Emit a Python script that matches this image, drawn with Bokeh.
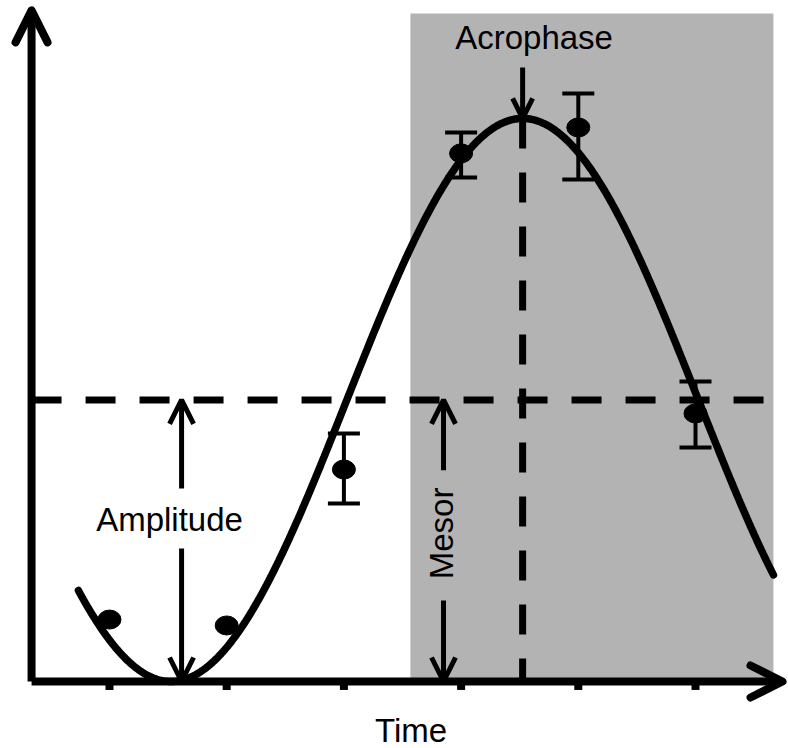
import numpy as np
from bokeh.plotting import figure
from bokeh.models import Range1d, Arrow, OpenHead, Whisker, TeeHead, ColumnDataSource
from bokeh.core.properties import value
from bokeh.embed import file_html
from bokeh.resources import INLINE

# Sampling times (h) and observed means with error limits
times = [2, 6, 10, 14, 18, 22]
means = [2.20, 1.99, 7.53, 18.76, 19.68, 9.52]
err_times = [10, 14, 18, 22]
err_upper = [8.81, 19.50, 20.89, 10.66]
err_lower = [6.32, 17.90, 17.83, 8.31]
tick_times = [2, 6, 10, 14, 18, 22]

# Fitted cosinor parameters
MESOR = 10.0
AMPLITUDE = 10.0
ACROPHASE = 16.1
PERIOD = 24.0

# Extents of the drawing (h / response units)
T_AXIS = -0.66
T_END = 24.97
Y_TOP = 23.84
DARK_START, DARK_END = 12.27, 24.66
CURVE_START, CURVE_END = 0.94, 24.66
T_AMPLITUDE = 4.46
T_MESOR = 13.40

FONT = value("Liberation Sans")
FS = "33px"

p = figure(width=788, height=748, x_range=Range1d(-1.72, 25.174),
           y_range=Range1d(-2.38, 24.19), toolbar_location=None,
           output_backend="svg", min_border=0,
           x_axis_location=None, y_axis_location=None)
p.grid.visible = False
p.outline_line_color = None
p.background_fill_color = "white"
p.border_fill_color = "white"

# shaded phase
p.quad(left=[DARK_START], right=[DARK_END], bottom=[0], top=[23.73],
       fill_color="#b3b3b3", line_color=None)

# axes with open arrow heads
p.segment(x0=[T_AXIS], y0=[0], x1=[T_END - 0.1], y1=[0], line_width=8, line_color="black")
p.segment(x0=[T_AXIS], y0=[0], x1=[T_AXIS], y1=[Y_TOP - 0.05], line_width=8, line_color="black")
for xs, ys, xe, ye in [(T_AXIS, 0, T_END, 0), (T_AXIS, 0, T_AXIS, Y_TOP)]:
    p.add_layout(Arrow(end=OpenHead(size=32, line_width=8, line_color="black",
                                    line_cap="round", line_join="round"),
                       x_start=xs, y_start=ys, x_end=xe, y_end=ye,
                       line_width=0, line_alpha=0))

# tick marks below the time axis
p.segment(x0=tick_times, y0=[0] * len(tick_times), x1=tick_times,
          y1=[-0.3] * len(tick_times), line_width=8, line_color="black")

# mesor and acrophase reference lines
p.line([T_AXIS, 24.4], [MESOR, MESOR], line_width=7, line_color="black",
       line_dash="30 24")
p.line([ACROPHASE, ACROPHASE], [MESOR + AMPLITUDE, 0], line_width=7,
       line_color="black", line_dash="30 24")

# fitted cosine
t = np.linspace(CURVE_START, CURVE_END, 400)
y = MESOR + AMPLITUDE * np.cos(2 * np.pi * (t - ACROPHASE) / PERIOD)
p.line(t, y, line_width=7.5, line_color="black", line_cap="round")

# error bars and observed means
src = ColumnDataSource(dict(t=err_times, upper=err_upper, lower=err_lower))
p.add_layout(Whisker(base="t", upper="upper", lower="lower", source=src,
                     level="annotation", line_width=4, line_color="black",
                     upper_head=TeeHead(size=32, line_width=4, line_color="black"),
                     lower_head=TeeHead(size=32, line_width=4, line_color="black")))
p.ellipse(x=times, y=means, width=23, height=19, width_units="screen",
          height_units="screen", fill_color="black", line_color="black")

def arrow(x0, y0, x1, y1, size=24):
    p.add_layout(Arrow(end=OpenHead(size=size, line_width=5, line_color="black"),
                       x_start=x0, y_start=y0, x_end=x1, y_end=y1,
                       line_width=5, line_color="black"))

# amplitude arrows
arrow(T_AMPLITUDE, 6.86, T_AMPLITUDE, MESOR)
arrow(T_AMPLITUDE, 4.72, T_AMPLITUDE, 0)
# mesor arrows
arrow(T_MESOR, 7.50, T_MESOR, MESOR)
arrow(T_MESOR, 2.88, T_MESOR, 0)
# acrophase arrow
arrow(ACROPHASE, 21.81, ACROPHASE, MESOR + AMPLITUDE, size=20)

# labels
p.text(x=[4.05], y=[5.75], text=["Amplitude"], text_font=FONT, text_font_size=FS,
       text_align="center", text_baseline="alphabetic", text_color="black")
p.text(x=[16.49], y=[22.88], text=["Acrophase"], text_font=FONT, text_font_size=FS,
       text_align="center", text_baseline="alphabetic", text_color="black")
p.text(x=[12.29], y=[-1.74], text=["Time"], text_font=FONT, text_font_size=FS,
       text_align="center", text_baseline="alphabetic", text_color="black")
p.text(x=[13.33], y=[5.26], text=["Mesor"], text_font=FONT, text_font_size=FS,
       text_align="center", text_baseline="alphabetic", text_color="black",
       angle=np.pi / 2)

open("out.html", "w").write(file_html(p, INLINE))
